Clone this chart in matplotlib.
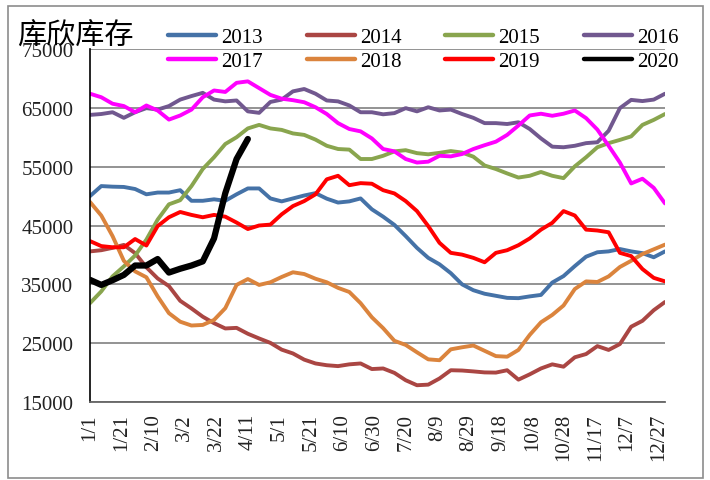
import matplotlib

matplotlib.use("Agg")
import matplotlib.pyplot as plt  # noqa: E402
import numpy as np  # noqa: E402
from matplotlib.lines import Line2D  # noqa: E402
from matplotlib.patches import Rectangle  # noqa: E402

# weekly readings, 1/1 .. 12/31 (day of year on a date axis)
days = np.linspace(0, 364, 52)

s2013 = [50000, 51700, 51600, 51550, 51200, 50300, 50600, 50600, 51000, 49200,
         49200, 49450, 49200, 50300, 51300, 51300, 49600, 49100, 49600, 50100,
         50500, 49560, 48900, 49100, 49600, 47750, 46500, 45100, 43200, 41200,
         39500, 38400, 36900, 35000, 34000, 33400, 33050, 32700, 32650, 32950,
         33200, 35300, 36400, 38100, 39700, 40450, 40600, 41000, 40600, 40300,
         39600, 40600]
s2014 = [40600, 40800, 41200, 41700, 40300, 37900, 36000, 34700, 32200, 30900,
         29500, 28400, 27500, 27600, 26600, 25800, 25050, 23900, 23250, 22200,
         21550, 21250, 21100, 21400, 21550, 20600, 20700, 19950, 18700, 17850,
         17950, 19000, 20400, 20350, 20200, 20030, 20000, 20400, 18800, 19700,
         20700, 21400, 21000, 22600, 23150, 24500, 23850, 24850, 27800, 28800,
         30600, 32000]
s2015 = [31800, 33800, 36350, 38050, 39900, 42600, 46000, 48600, 49300, 51700,
         54600, 56600, 58850, 60000, 61500, 62100, 61500, 61250, 60650, 60400,
         59600, 58550, 58000, 57900, 56300, 56300, 56850, 57600, 57800, 57300,
         57100, 57350, 57650, 57400, 56700, 55200, 54600, 53850, 53150, 53450,
         54100, 53450, 53050, 55050, 56600, 58300, 59000, 59550, 60150, 62100,
         62950, 63950]
s2016 = [63800, 63950, 64250, 63300, 64250, 64950, 64700, 65300, 66400, 67000,
         67550, 66400, 66100, 66250, 64400, 64150, 66000, 66400, 67800, 68200,
         67400, 66250, 66100, 65400, 64250, 64250, 63900, 64100, 64950, 64400,
         65100, 64550, 64700, 63950, 63300, 62400, 62400, 62250, 62550, 61400,
         59800, 58400, 58300, 58550, 59000, 59150, 61100, 64950, 66350, 66150,
         66400, 67400]
s2017 = [67400, 66800, 65700, 65300, 64250, 65400, 64550, 63000, 63700, 64700,
         66800, 67950, 67700, 69250, 69500, 68350, 67200, 66550, 66300, 65950,
         65100, 63950, 62400, 61400, 61000, 59800, 58000, 57600, 56300, 55700,
         55850, 56850, 56750, 57150, 58000, 58650, 59250, 60400, 62000, 63700,
         64000, 63650, 64000, 64550, 63250, 61300, 58550, 55700, 52150, 52950,
         51400, 48750]
s2018 = [49000, 46700, 43200, 39000, 37200, 36200, 32950, 30100, 28650, 28000,
         28100, 28950, 30950, 34900, 35900, 34900, 35350, 36250, 37050, 36750,
         35950, 35350, 34400, 33700, 31800, 29400, 27550, 25400, 24700, 23450,
         22250, 22100, 23950, 24300, 24600, 23700, 22800, 22700, 23850, 26400,
         28550, 29800, 31400, 34200, 35500, 35400, 36350, 37950, 39000, 40150,
         40950, 41750]
s2019 = [42350, 41500, 41300, 41300, 42700, 41600, 44900, 46400, 47300, 46800,
         46400, 46800, 46500, 45500, 44400, 45000, 45150, 46900, 48300, 49150,
         50300, 52850, 53450, 51850, 52200, 52100, 51000, 50450, 49150, 47450,
         44900, 42050, 40350, 40050, 39500, 38750, 40350, 40800, 41650, 42800,
         44300, 45450, 47450, 46700, 44300, 44150, 43850, 40350, 39800, 37600,
         36100, 35500]
s2020 = [35760, 34900, 35700, 36600, 38200, 38200, 39300, 37000, 37650, 38200,
         38900, 42800, 50500, 56300, 59700]

series = [
    ("2013", s2013, "#4572A7"),
    ("2014", s2014, "#AA4643"),
    ("2015", s2015, "#89A54E"),
    ("2016", s2016, "#71588F"),
    ("2017", s2017, "#FF00FF"),
    ("2018", s2018, "#DB843D"),
    ("2019", s2019, "#FF0000"),
    ("2020", s2020, "#000000"),
]

tick_days = list(range(0, 361, 20))
tick_labels = ["1/1", "1/21", "2/10", "3/2", "3/22", "4/11", "5/1", "5/21",
               "6/10", "6/30", "7/20", "8/9", "8/29", "9/18", "10/8", "10/28",
               "11/17", "12/7", "12/27"]
y_ticks = [15000, 25000, 35000, 45000, 55000, 65000, 75000]

serif = ["Liberation Serif", "DejaVu Serif"]
plt.rcParams["font.family"] = serif

fig = plt.figure(figsize=(7.10, 4.81), dpi=100)
ax = fig.add_axes([90 / 710, 1 - 403 / 481, 575 / 710, 353 / 481])

handles = []
for name, vals, color in series:
    lw = 4.5 if name == "2020" else 2.8
    ax.plot(days[:len(vals)], vals, color=color, lw=lw,
            solid_joinstyle="round", solid_capstyle="round")
    handles.append(Line2D([], [], color=color, lw=3.2, solid_capstyle="round", label=name))

ax.set_xlim(0, 364)
ax.set_ylim(15000, 75000)
ax.set_yticks(y_ticks)
ax.set_yticklabels([str(v) for v in y_ticks])
ax.set_xticks(tick_days)
ax.set_xticklabels(tick_labels, rotation=90, va="top", ha="center")
ax.tick_params(axis="both", length=0, labelsize=15, colors="#222222")
ax.tick_params(axis="y", pad=12)
ax.tick_params(axis="x", pad=8)
ax.grid(axis="y", color="#8a8a8a", lw=1.3)
ax.set_axisbelow(True)
for side in ("top", "right"):
    ax.spines[side].set_visible(False)
ax.spines["left"].set_color("black")
ax.spines["left"].set_linewidth(1.2)
ax.spines["bottom"].set_color("#666666")
ax.spines["bottom"].set_linewidth(1.3)

fig.text(17 / 710, 1 - 37 / 481, "库欣库存", fontsize=21, va="center", ha="left",
         family=["Noto Sans CJK SC", "DejaVu Sans"])

# legend reads row by row (2013..2016 on top); matplotlib fills columns first
order = [0, 4, 1, 5, 2, 6, 3, 7]
fig.legend(handles=[handles[i] for i in order], ncol=4, loc="upper left",
           bbox_to_anchor=(158 / 710, 1 - 18 / 481), frameon=False,
           fontsize=15, handlelength=2.3, handletextpad=0.25,
           columnspacing=2.1, labelspacing=0.22, borderpad=0)

fig.patches.append(Rectangle((8 / 710, 2 / 481), 695 / 710, 472 / 481,
                             transform=fig.transFigure, fill=False,
                             edgecolor="#8c8c8c", lw=1.2))

fig.savefig("out.png", dpi=100)
